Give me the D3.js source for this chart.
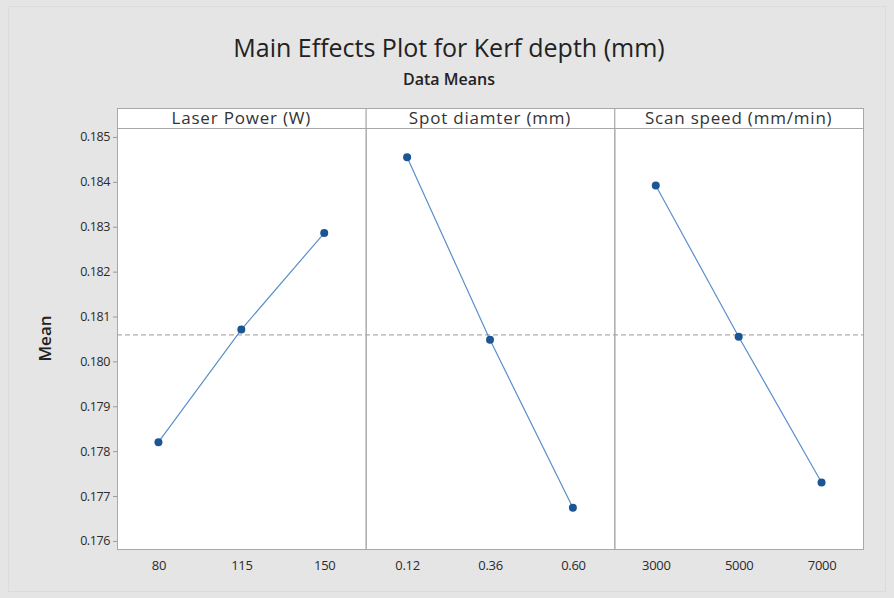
<!DOCTYPE html>
<html>
<head>
<meta charset="utf-8">
<script src="https://cdn.jsdelivr.net/npm/d3@7"></script>
<style>
  html, body { margin: 0; padding: 0; background: #e5e5e5; }
  svg { display: block; }
  .tick-label { font-family: "Open Sans", "Noto Sans", sans-serif; font-size: 12.5px; fill: #2b2b2b; }
</style>
</head>
<body>
<div id="chart"></div>
<script>
// chart data
const factors = ["Laser Power (W)", "Spot diamter (mm)", "Scan speed (mm/min)"];
const laserLevels = ["80", "115", "150"];
const laserMeans = [0.17820, 0.18071, 0.18286];
const spotLevels = ["0.12", "0.36", "0.60"];
const spotMeans = [0.18455, 0.18048, 0.17674];
const scanLevels = ["3000", "5000", "7000"];
const scanMeans = [0.18392, 0.18055, 0.17730];
const grandMean = 0.18059;
const yTicks = [0.176, 0.177, 0.178, 0.179, 0.180, 0.181, 0.182, 0.183, 0.184, 0.185];

const panels = [
    {name: factors[0], levels: laserLevels, means: laserMeans},
    {name: factors[1], levels: spotLevels, means: spotMeans},
    {name: factors[2], levels: scanLevels, means: scanMeans}
];

const W = 894, H = 598;
const plot = {left: 117, right: 863, top: 128, bottom: 549, stripTop: 108};
const font = "'Open Sans', 'Noto Sans', sans-serif";

const svg = d3.select("#chart").append("svg")
    .attr("width", W)
    .attr("height", H);

// background + faint outer frame
svg.append("rect").attr("width", W).attr("height", H).attr("fill", "#e5e5e5");
svg.append("rect")
    .attr("x", 8.5).attr("y", 6.5).attr("width", W - 17).attr("height", H - 13)
    .attr("fill", "none").attr("stroke", "#dcdcdc");

// titles
svg.append("text")
    .attr("x", 449).attr("y", 57)
    .attr("text-anchor", "middle")
    .style("font-family", font)
    .style("font-size", "25px")
    .attr("fill", "#222")
    .text("Main Effects Plot for Kerf depth (mm)");
svg.append("text")
    .attr("x", 449).attr("y", 85)
    .attr("text-anchor", "middle")
    .style("font-family", font)
    .style("font-size", "16px")
    .style("font-weight", "600")
    .attr("fill", "#222")
    .text("Data Means");

// scales
const xPanel = d3.scaleBand()
    .domain(factors)
    .range([plot.left, plot.right])
    .padding(0);
const y = d3.scaleLinear()
    .domain([0.17582, 0.1852])
    .range([plot.bottom, plot.top]);

// plot body
svg.append("rect")
    .attr("x", plot.left).attr("y", plot.top)
    .attr("width", plot.right - plot.left).attr("height", plot.bottom - plot.top)
    .attr("fill", "#fff");

// y axis
const yAxis = svg.append("g")
    .attr("transform", "translate(" + plot.left + ",0)")
    .call(d3.axisLeft(y).tickValues(yTicks).tickFormat(d3.format(".3f")).tickSize(4).tickPadding(3));
yAxis.select(".domain").remove();
yAxis.selectAll(".tick line").attr("stroke", "#999");
yAxis.selectAll(".tick text").attr("class", "tick-label").attr("font-family", null).attr("font-size", null)
    .attr("letter-spacing", "-0.4");

svg.append("text")
    .attr("transform", "translate(51," + ((plot.top + plot.bottom) / 2) + ") rotate(-90)")
    .attr("text-anchor", "middle")
    .style("font-family", font)
    .style("font-size", "17px")
    .style("font-weight", "600")
    .attr("fill", "#222")
    .text("Mean");

// grand mean reference line
svg.append("line")
    .attr("x1", plot.left).attr("x2", plot.right)
    .attr("y1", y(grandMean)).attr("y2", y(grandMean))
    .attr("stroke", "#999").attr("stroke-width", 1)
    .attr("stroke-dasharray", "5,3");

const line = d3.line();

panels.forEach((p) => {
    const x0 = xPanel(p.name), bw = xPanel.bandwidth();
    const x = d3.scalePoint().domain(p.levels).range([x0, x0 + bw]).padding(0.5);

    // strip header
    svg.append("rect")
        .attr("x", x0 + 0.5).attr("y", plot.stripTop + 0.5)
        .attr("width", bw).attr("height", plot.top - plot.stripTop)
        .attr("fill", "#fff").attr("stroke", "#a8a8a8");
    svg.append("text")
        .attr("x", x0 + bw / 2).attr("y", plot.stripTop + 16)
        .attr("text-anchor", "middle")
        .style("font-family", font)
        .style("font-size", "17px")
        .attr("letter-spacing", "0.8")
        .attr("fill", "#333")
        .text(p.name);

    // panel frame
    svg.append("rect")
        .attr("x", x0 + 0.5).attr("y", plot.top + 0.5)
        .attr("width", bw).attr("height", plot.bottom - plot.top)
        .attr("fill", "none").attr("stroke", "#a8a8a8");

    // x axis labels
    const xAxis = svg.append("g")
        .attr("transform", "translate(0," + plot.bottom + ")")
        .call(d3.axisBottom(x).tickSize(0).tickPadding(12));
    xAxis.select(".domain").remove();
    xAxis.selectAll(".tick text").attr("class", "tick-label").attr("font-family", null).attr("font-size", null)
        .style("font-size", "13px").attr("letter-spacing", "-0.3");

    const pts = p.levels.map((l, i) => [x(l), y(p.means[i])]);
    svg.append("path")
        .attr("d", line(pts))
        .attr("fill", "none")
        .attr("stroke", "#5b8fc9")
        .attr("stroke-width", 1.2);
    svg.selectAll(null)
        .data(pts)
        .enter()
        .append("circle")
        .attr("cx", (d) => d[0])
        .attr("cy", (d) => d[1])
        .attr("r", 4)
        .attr("fill", "#1b5593");
});
</script>
</body>
</html>
